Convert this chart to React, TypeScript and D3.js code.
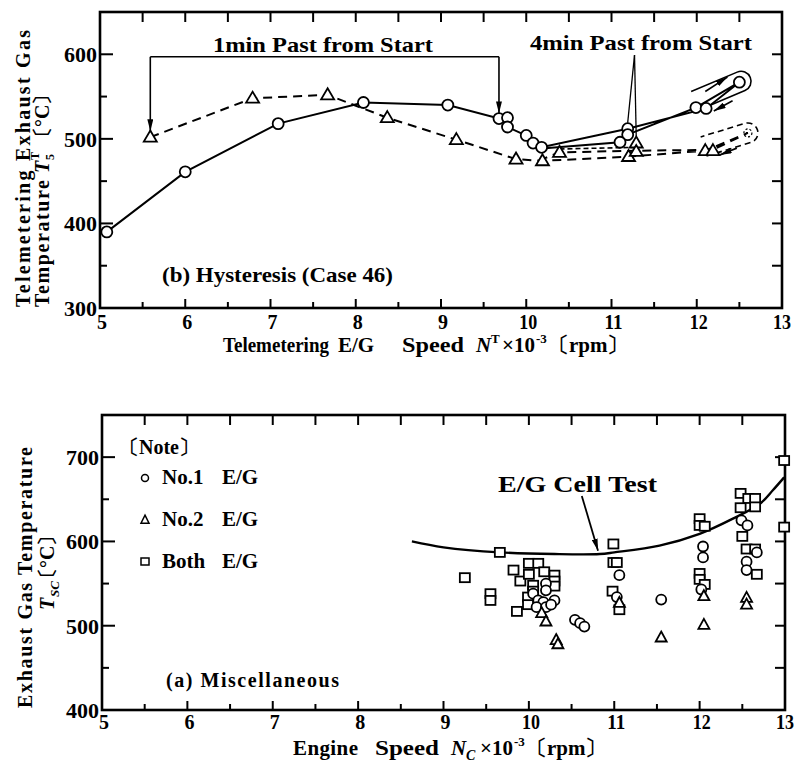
import React from 'react';
import * as d3 from 'd3';

type P = [number, number];

// ---------------- Panel (b) Hysteresis (Case 46) ----------------
const hystCircleTrace: P[] = [
  [5.08, 390], [6.0, 461], [7.09, 518], [8.09, 543], [9.08, 540], [9.68, 524],
  [9.78, 525], [9.78, 514], [10.0, 504], [10.08, 495], [10.18, 490], [11.19, 512],
  [12.11, 536], [12.5, 567], [11.99, 537], [11.19, 505], [11.1, 496], [10.22, 489],
];
const hystCircles: P[] = [
  [5.08, 390], [6.0, 461], [7.09, 518], [8.09, 543], [9.08, 540], [9.68, 524],
  [9.78, 525], [9.78, 514], [10.0, 504], [10.08, 495], [10.18, 490], [11.19, 512],
  [11.19, 505], [11.1, 496], [11.99, 537], [12.11, 536], [12.5, 567],
];
const hystTriangleTrace: P[] = [
  [5.59, 502], [6.79, 548], [7.67, 552], [8.37, 525], [9.18, 499], [9.88, 476],
  [10.19, 474], [11.2, 479], [12.1, 486], [12.6, 507], [12.19, 487], [11.29, 486],
  [10.39, 484], [10.19, 476],
];
const hystTriangleExtra: P[] = [[10.39, 488], [11.29, 490]];
const hystTriangles: P[] = [
  [5.59, 502], [6.79, 548], [7.67, 552], [8.37, 525], [9.18, 499], [9.88, 476],
  [10.19, 474], [10.39, 484], [11.2, 479], [11.29, 495], [11.29, 485], [12.1, 486],
  [12.19, 486],
];
const hystTriangleEnd: P = [12.6, 507];

// annotations (data units)
const oneMinLeft: P[] = [[5.59, 597], [5.59, 509]];
const oneMinTop: P[] = [[5.59, 597], [9.68, 597]];
const oneMinRight: P[] = [[9.68, 597], [9.68, 530]];
const fourMinApex: P = [11.27, 599];
const fourMinTargets: P[] = [[11.19, 519], [11.29, 503]];
const solidLoop: [P, P] = [[11.98, 545], [12.52, 568]];
const dashedLoop: [P, P] = [[12.08, 491], [12.6, 507]];
const solidArrowUp: [P, P] = [[12.1, 556], [12.36, 573]];
const solidArrowDown: [P, P] = [[12.42, 545], [12.2, 533]];
const dashedArrowDown: [P, P] = [[12.47, 489], [12.27, 481]];

// ---------------- Panel (a) Miscellaneous ----------------
const cellTest: P[] = [
  [8.63, 600], [9.0, 593], [9.66, 587], [10.3, 585], [10.83, 585], [11.0, 587],
  [11.53, 595], [12.0, 609], [12.39, 627], [12.71, 645], [12.86, 661], [12.99, 676],
];
const cellArrow: [P, P] = [[10.62, 654], [10.81, 589]];
const no1: P[] = [
  [10.2, 550], [10.2, 542], [10.05, 538], [10.11, 530], [10.17, 528], [10.3, 530],
  [10.09, 522], [10.2, 522], [10.26, 525], [10.54, 507], [10.6, 503], [10.65, 499],
  [11.06, 560], [11.03, 534], [11.55, 531], [12.04, 594], [12.04, 581], [12.02, 543],
  [12.49, 625], [12.56, 619], [12.67, 587], [12.55, 576], [12.55, 566],
];
const no2: P[] = [
  [10.15, 515], [10.2, 505], [10.32, 483], [10.34, 478], [11.06, 527], [11.55, 486],
  [12.05, 535], [12.05, 501], [12.55, 533], [12.55, 525],
];
const both: P[] = [
  [9.25, 557], [9.55, 538], [9.55, 530], [9.66, 587], [9.82, 566], [9.86, 517],
  [9.9, 553], [10.0, 574], [10.11, 574], [10.0, 561], [10.05, 548], [10.05, 541],
  [9.99, 534], [9.99, 525], [10.18, 564], [10.3, 560], [10.3, 553], [10.3, 547],
  [10.99, 597], [10.99, 575], [11.03, 575], [10.98, 541], [11.06, 519],
  [12.0, 627], [12.0, 619], [12.06, 618], [12.0, 562], [12.0, 555], [12.06, 549],
  [12.48, 657], [12.48, 640], [12.57, 651], [12.65, 651], [12.65, 641], [12.5, 606],
  [12.55, 591], [12.65, 591], [12.67, 561], [12.99, 696], [12.99, 617],
];

// ---------------- ticks ----------------
const xTickMajor = [5, 6, 7, 8, 9, 10, 11, 12, 13];
const xTickMinor = [5.5, 6.5, 7.5, 8.5, 9.5, 10.5, 11.5, 12.5];
const yTopMajor = [300, 400, 500, 600];
const yTopMinor = [350, 450, 550];
const yTopRight = [350, 400, 450, 500, 550, 600];
const yBotMajor = [400, 500, 600, 700];
const yBotMinor = [450, 550, 650];
const yBotRight = [450, 500, 550, 600, 650, 700];

const FONT = '"Liberation Serif","Times New Roman",serif';

const tri = (cx: number, cy: number, w: number, h: number) =>
  `M${cx},${cy - h * 0.6}L${cx + w / 2},${cy + h * 0.4}L${cx - w / 2},${cy + h * 0.4}Z`;

function capsule(a: P, b: P, r: number) {
  const dx = b[0] - a[0], dy = b[1] - a[1];
  const L = Math.hypot(dx, dy);
  const nx = -dy / L, ny = dx / L;
  return `M${a[0] + nx * r},${a[1] + ny * r}L${b[0] + nx * r},${b[1] + ny * r}A${r},${r} 0 0 0 ${b[0] - nx * r},${b[1] - ny * r}L${a[0] - nx * r},${a[1] - ny * r}`;
}

export default function App() {
  const xT = d3.scaleLinear().domain([5, 13]).range([100, 782]);
  const yT = d3.scaleLinear().domain([300, 650]).range([308, 12]);
  const xB = d3.scaleLinear().domain([5, 13]).range([102, 785]);
  const yB = d3.scaleLinear().domain([400, 750]).range([710, 415]);

  const lineT = d3.line<P>().x(d => xT(d[0])).y(d => yT(d[1]));
  const lineB = d3.line<P>().x(d => xB(d[0])).y(d => yB(d[1]));
  const curveB = d3.line<P>().x(d => xB(d[0])).y(d => yB(d[1])).curve(d3.curveCatmullRom);
  const pT = (d: P): P => [xT(d[0]), yT(d[1])];

  const sw = 1.8;

  const frame = (xs: d3.ScaleLinear<number, number>, ys: d3.ScaleLinear<number, number>,
    major: number[], minor: number[], right: number[], key: string) => {
    const [x0, x1] = xs.range();
    const [y0, y1] = ys.range();
    return (
      <g key={key} stroke="#000" fill="none">
        <rect x={x0} y={y1} width={x1 - x0} height={y0 - y1} strokeWidth={2.6} />
        {xTickMajor.map(v => (
          <g key={'xm' + v}>
            <line x1={xs(v)} x2={xs(v)} y1={y0} y2={y0 - 9} strokeWidth={2} />
            <line x1={xs(v)} x2={xs(v)} y1={y1} y2={y1 + 10} strokeWidth={2} />
          </g>
        ))}
        {xTickMinor.map(v => (
          <g key={'xn' + v}>
            <line x1={xs(v)} x2={xs(v)} y1={y0} y2={y0 - 6} strokeWidth={2} />
            <line x1={xs(v)} x2={xs(v)} y1={y1} y2={y1 + 10} strokeWidth={2} />
          </g>
        ))}
        {major.map(v => <line key={'ym' + v} x1={x0} x2={x0 + 13} y1={ys(v)} y2={ys(v)} strokeWidth={2} />)}
        {minor.map(v => <line key={'yn' + v} x1={x0} x2={x0 + 7} y1={ys(v)} y2={ys(v)} strokeWidth={2} />)}
        {right.map(v => <line key={'yr' + v} x1={x1} x2={x1 - 10} y1={ys(v)} y2={ys(v)} strokeWidth={2} />)}
      </g>
    );
  };

  const tickLabels = (xs: d3.ScaleLinear<number, number>, ys: d3.ScaleLinear<number, number>,
    major: number[], xBase: number, key: string) => (
    <g key={key} fontSize={22} fill="#000">
      {xTickMajor.map(v => (
        <text key={'x' + v} x={xs(v) + (v >= 13 ? 0 : 2)} y={xBase} textAnchor="middle"
          textLength={v >= 10 ? 18 : 10} lengthAdjust="spacingAndGlyphs">{v}</text>
      ))}
      {major.map(v => (
        <text key={'y' + v} x={xs.range()[0] - 3} y={ys(v) + 8} textAnchor="end"
          textLength={33} lengthAdjust="spacingAndGlyphs">{v}</text>
      ))}
    </g>
  );

  const sLoop = capsule(pT(solidLoop[0]), pT(solidLoop[1]), 10);
  const dLoop = capsule(pT(dashedLoop[0]), pT(dashedLoop[1]), 10);

  return (
    <svg width={797} height={769} viewBox="0 0 797 769"
      style={{ position: 'absolute', left: 0, top: 0, background: '#fff' }}
      fontFamily={FONT} fontWeight="bold">
      <defs>
        <marker id="ah" viewBox="0 0 12 6" refX="12" refY="3" markerWidth="12" markerHeight="6"
          markerUnits="userSpaceOnUse" orient="auto">
          <path d="M0,0 L12,3 L0,6 Z" fill="#000" />
        </marker>
      </defs>
      <rect x={0} y={0} width={797} height={769} fill="#fff" />

      {/* ================= TOP PANEL ================= */}
      {frame(xT, yT, yTopMajor, yTopMinor, yTopRight, 'ft')}
      {tickLabels(xT, yT, yTopMajor, 329, 'tt')}

      <g fill="none" stroke="#000">
        <path d={lineT(hystTriangleTrace) || ''} strokeWidth={2} strokeDasharray="9,6" />
        <path d={lineT(hystTriangleExtra) || ''} strokeWidth={1.6} strokeDasharray="5,3" />
        <path d={lineT(hystCircleTrace) || ''} strokeWidth={2} />
        <path d={sLoop} strokeWidth={1.6} />
        <path d={dLoop} strokeWidth={1.6} strokeDasharray="6,4" />
        <circle cx={xT(hystTriangleEnd[0])} cy={yT(hystTriangleEnd[1])} r={4} strokeWidth={1.2} strokeDasharray="2,2" />
        <path d={lineT(oneMinTop) || ''} strokeWidth={1.6} />
        <path d={lineT(oneMinLeft) || ''} strokeWidth={1.6} markerEnd="url(#ah)" />
        <path d={lineT(oneMinRight) || ''} strokeWidth={1.6} markerEnd="url(#ah)" />
        {fourMinTargets.map((t, i) => (
          <path key={'f' + i} d={lineT([fourMinApex, t]) || ''} strokeWidth={1.3} />
        ))}
        <path d={lineT(solidArrowUp) || ''} strokeWidth={1.6} markerEnd="url(#ah)" />
        <path d={lineT(solidArrowDown) || ''} strokeWidth={1.6} markerEnd="url(#ah)" />
        <path d={lineT(dashedArrowDown) || ''} strokeWidth={1.8} strokeDasharray="7,4" markerEnd="url(#ah)" />
      </g>
      <g fill="#fff" stroke="#000" strokeWidth={sw}>
        {hystTriangles.map((d, i) => (
          <path key={'ht' + i} d={tri(xT(d[0]), yT(d[1]), 13, 11)} />
        ))}
        {hystCircles.map((d, i) => (
          <circle key={'hc' + i} cx={xT(d[0])} cy={yT(d[1])} r={5.5} />
        ))}
      </g>

      <g fill="#000">
        <text x={213} y={52} fontSize={22} textLength={220} lengthAdjust="spacingAndGlyphs">1min Past from Start</text>
        <text x={530} y={50} fontSize={22} textLength={222} lengthAdjust="spacingAndGlyphs">4min Past from Start</text>
        <text x={162} y={282} fontSize={21} textLength={231} lengthAdjust="spacingAndGlyphs">(b) Hysteresis (Case 46)</text>
        {/* x-axis label */}
        <g fontSize={21}>
          <text x={223} y={352} textLength={106} lengthAdjust="spacingAndGlyphs">Telemetering</text>
          <text x={338} y={352}>E/G</text>
          <text x={402} y={352} textLength={62} lengthAdjust="spacingAndGlyphs">Speed</text>
          <text x={476} y={352} fontStyle="italic">N</text>
          <text x={491} y={343} fontSize={13}>T</text>
          <text x={502} y={352}>×10</text>
          <text x={536} y={343} fontSize={13}>-3</text>
          <text x={548} y={352}>〔rpm〕</text>
        </g>
        {/* y-axis label */}
        <g transform="translate(30,307) rotate(-90)" fontSize={20}>
          <text x={0} y={0} textLength={277} lengthAdjust="spacing">Telemetering  Exhaust  Gas</text>
          <text x={0} y={19} textLength={127} lengthAdjust="spacing">Temperature</text>
          <text x={134} y={19} fontStyle="italic">T</text>
          <text x={147} y={24} fontSize={12}>5</text>
          <text x={147} y={9} fontSize={12}>T</text>
          <text x={160} y={19}>〔°C〕</text>
        </g>
      </g>

      {/* ================= BOTTOM PANEL ================= */}
      {frame(xB, yB, yBotMajor, yBotMinor, yBotRight, 'fb')}
      {tickLabels(xB, yB, yBotMajor, 729, 'tb')}

      <g fill="none" stroke="#000">
        <path d={curveB(cellTest) || ''} strokeWidth={2.4} />
        <path d={lineB(cellArrow) || ''} strokeWidth={1.8} markerEnd="url(#ah)" />
      </g>
      <g fill="#fff" stroke="#000" strokeWidth={sw}>
        {both.map((d, i) => (
          <rect key={'b' + i} x={xB(d[0]) - 5} y={yB(d[1]) - 4.5} width={10} height={9} />
        ))}
        {no1.map((d, i) => (
          <circle key={'c' + i} cx={xB(d[0])} cy={yB(d[1])} r={5} />
        ))}
        {no2.map((d, i) => (
          <path key={'t' + i} d={tri(xB(d[0]), yB(d[1]), 11, 10)} />
        ))}
        <circle cx={145} cy={478} r={3.5} strokeWidth={1.5} />
        <path d={tri(145, 520, 8, 8)} strokeWidth={1.5} />
        <rect x={141} y={558} width={8} height={7} strokeWidth={1.5} />
      </g>

      <g fill="#000">
        <text x={119} y={454} fontSize={20}>〔Note〕</text>
        <text x={162} y={484} fontSize={21}>No.1</text>
        <text x={222} y={484} fontSize={21}>E/G</text>
        <text x={162} y={526} fontSize={21}>No.2</text>
        <text x={222} y={526} fontSize={21}>E/G</text>
        <text x={162} y={568} fontSize={21}>Both</text>
        <text x={222} y={568} fontSize={21}>E/G</text>
        <text x={498} y={492} fontSize={23} textLength={159} lengthAdjust="spacingAndGlyphs">E/G  Cell Test</text>
        <text x={166} y={687} fontSize={20} textLength={173} lengthAdjust="spacing">(a) Miscellaneous</text>
        {/* x-axis label */}
        <g fontSize={21}>
          <text x={293} y={755} textLength={65} lengthAdjust="spacing">Engine</text>
          <text x={375} y={755} textLength={64} lengthAdjust="spacingAndGlyphs">Speed</text>
          <text x={451} y={755} fontStyle="italic">N</text>
          <text x={466} y={760} fontSize={14} fontStyle="italic">C</text>
          <text x={480} y={755}>×10</text>
          <text x={514} y={746} fontSize={13}>-3</text>
          <text x={526} y={755}>〔rpm〕</text>
        </g>
        {/* y-axis label */}
        <g transform="translate(32,708) rotate(-90)" fontSize={20}>
          <text x={0} y={0} textLength={261} lengthAdjust="spacing">Exhaust  Gas  Temperature</text>
          <text x={98} y={22} fontStyle="italic">T</text>
          <text x={111} y={27} fontSize={13} fontStyle="italic">SC</text>
          <text x={120} y={22}>〔°C〕</text>
        </g>
      </g>
    </svg>
  );
}
